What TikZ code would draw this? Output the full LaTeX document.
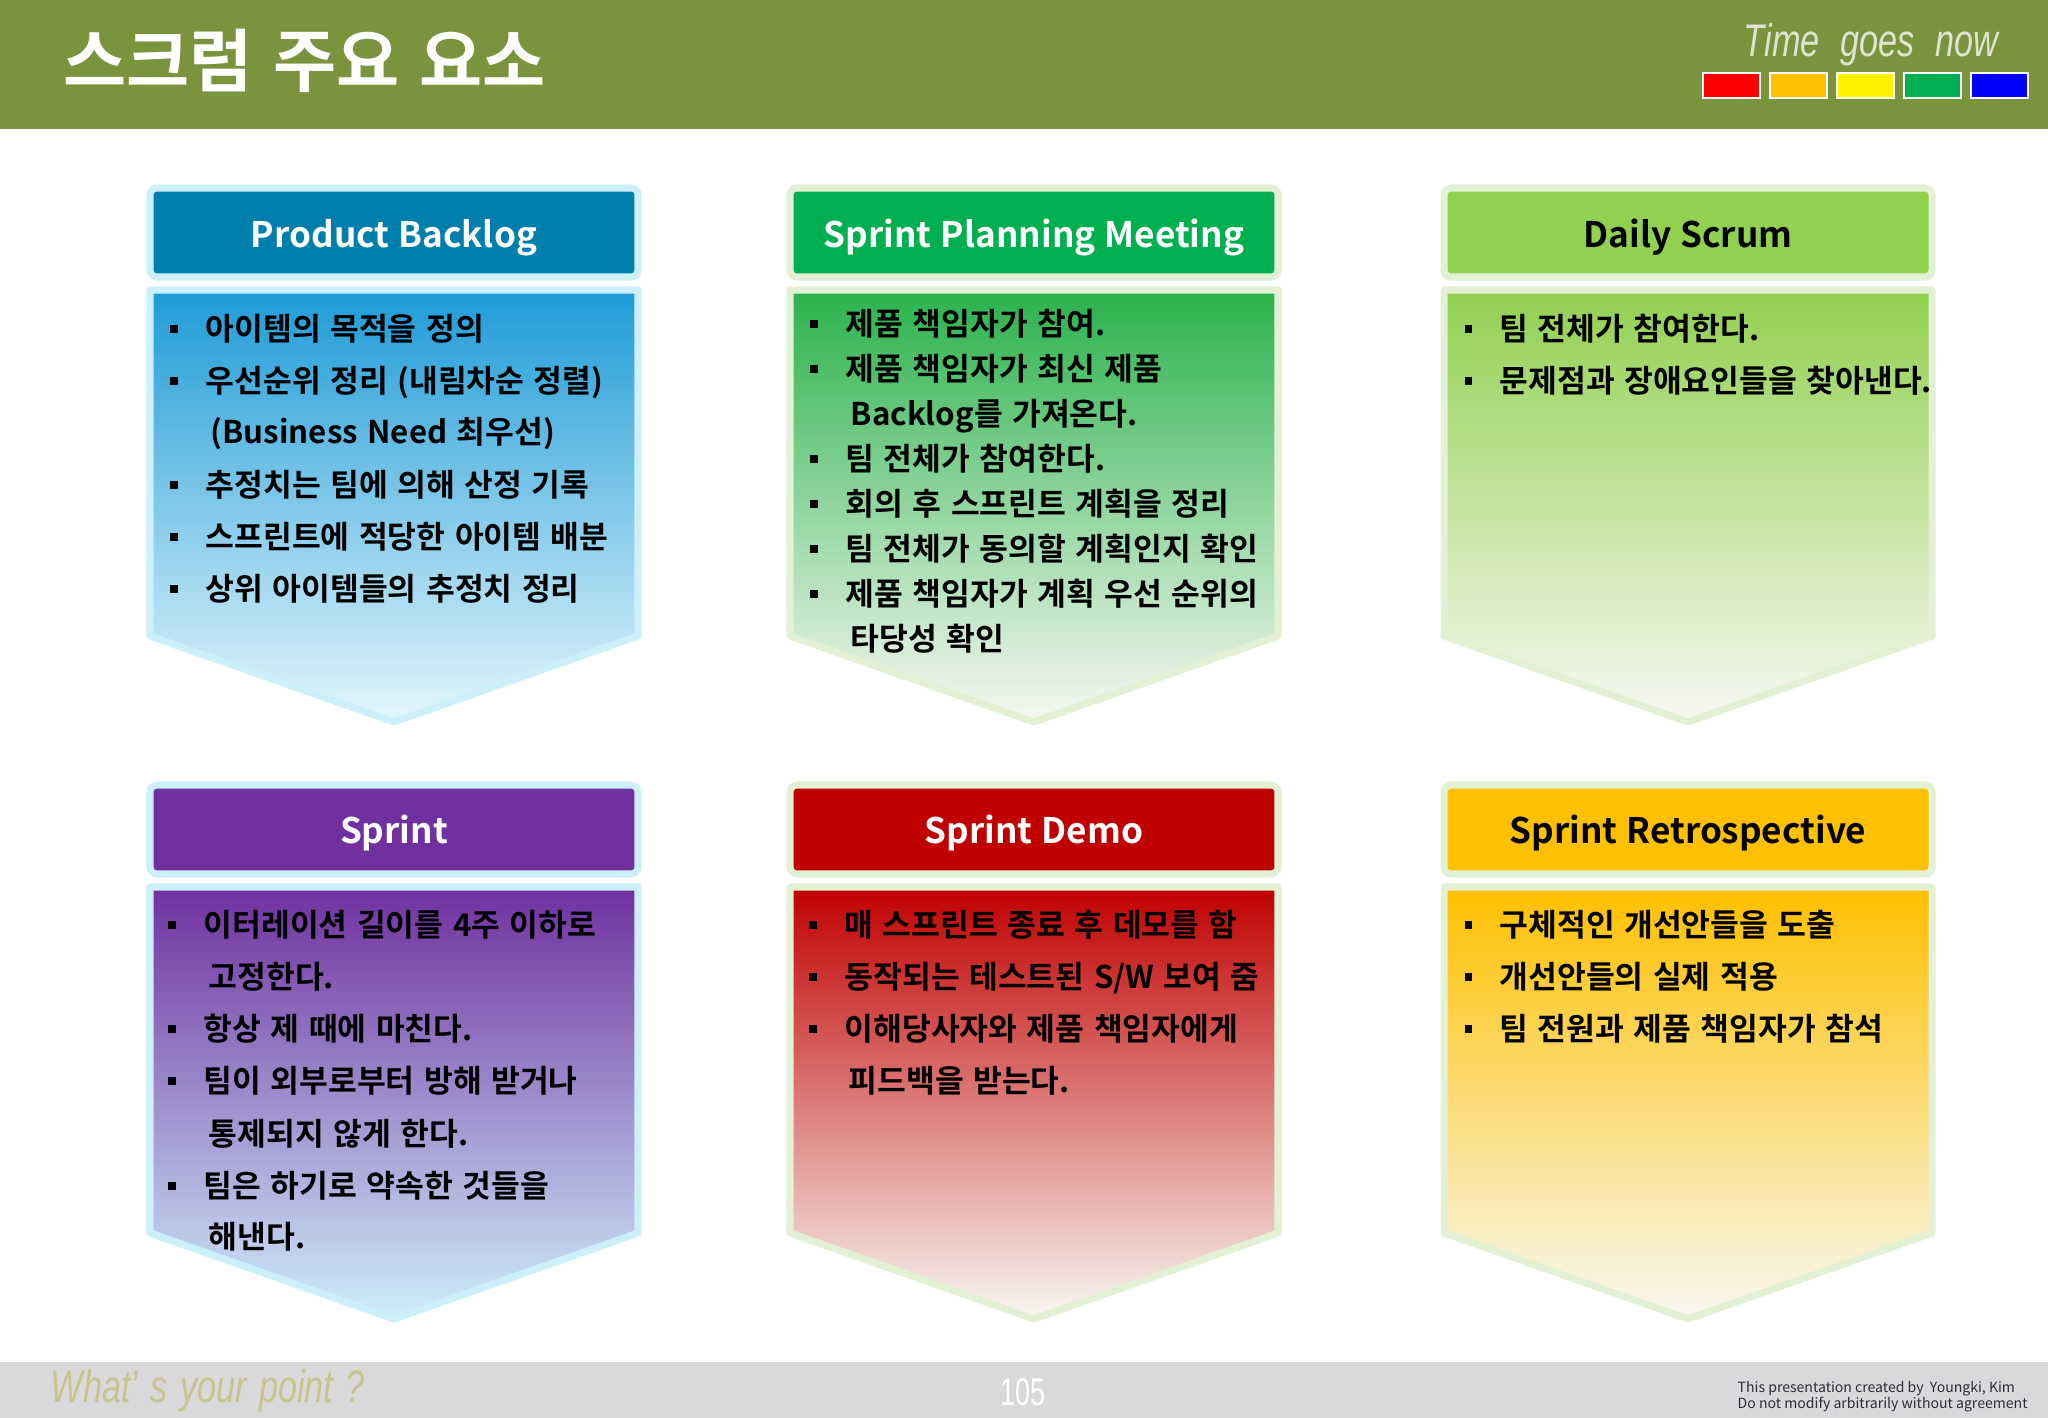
\documentclass[tikz,border=0pt]{standalone}
\usepackage{fontspec}
\usepackage{xcolor}
\newfontfamily\krfont{Noto Sans CJK KR}[UprightFont=* Bold]
\newfontfamily\krnote{Noto Sans CJK KR}
\newfontfamily\slogan{Liberation Sans}[FakeStretch=0.75]
\newfontfamily\pagefont{Liberation Sans}[FakeStretch=0.7]
\newcommand\titlefont{\krfont\fontsize{19.5}{22}\selectfont\spaceskip 5.8pt\relax}
\newcommand\headfont{\krfont\fontsize{10}{12}\selectfont\spaceskip 2.6pt\relax}
\newcommand\itemfont{\krfont\fontsize{8.9}{11}\selectfont\spaceskip 2.7pt\relax}
\newcommand\sloganfont{\slogan\itshape\fontsize{13}{15}\selectfont\spaceskip 5.9pt\relax}
\newcommand\pointfont{\slogan\itshape\fontsize{13}{15}\selectfont\spaceskip 3.5pt\relax}

\definecolor{barolive}{RGB}{122,148,61}
\definecolor{footgray}{RGB}{217,217,219}
\definecolor{slogangray}{RGB}{224,226,210}
\definecolor{pointtan}{RGB}{200,196,140}
\definecolor{notegray}{RGB}{45,45,55}
\definecolor{glowcyan}{RGB}{204,240,250}
\definecolor{glowgreen}{RGB}{226,241,212}
\definecolor{pbhead}{RGB}{0,126,172}
\definecolor{pbtop}{RGB}{30,155,215}
\definecolor{pbbot}{RGB}{228,246,252}
\definecolor{spmhead}{RGB}{0,176,80}
\definecolor{spmtop}{RGB}{42,178,76}
\definecolor{dshead}{RGB}{146,208,80}
\definecolor{sprhead}{RGB}{112,48,160}
\definecolor{sprmid}{RGB}{150,142,206}
\definecolor{sprbot}{RGB}{206,238,250}
\definecolor{demohead}{RGB}{192,0,0}
\definecolor{retrohead}{RGB}{255,192,0}
\definecolor{palebot}{RGB}{248,248,242}

\begin{document}
\begin{tikzpicture}[x=0.01cm,y=-0.01cm,
  headbox/.style={line width=2pt, rounded corners=2pt},
  bodybox/.style={line width=2pt, line join=round},
  headtxt/.style={anchor=base, inner sep=0pt, font=\headfont},
  item/.style={anchor=west, inner sep=0pt, text height=7.6pt, text depth=1pt, font=\itemfont},
  bullet/.style={fill=black, minimum size=2pt, inner sep=0pt},
  swatch/.style={draw=white, line width=0.6pt}]
%\draw[step=100,gray,very thin] (0,0) grid (2048,1418); %background grid
\fill[white] (0,0) rectangle (2048,1418);
\useasboundingbox (0,0) rectangle (2048,1418);

% title bar
\fill[barolive] (0,0) rectangle (2048,129);
\node[anchor=west, inner sep=0pt, text=white, font=\titlefont] (title) at (63,61) {스크럼 주요 요소};
\node[anchor=base west, inner sep=0pt, text=slogangray, font=\sloganfont] (slogan) at (1743,57) {Time goes now};
\draw[swatch, fill=red]          (1703,73) rectangle (1760,98);
\draw[swatch, fill=retrohead]    (1770,73) rectangle (1827,98);
\draw[swatch, fill=yellow]       (1837,73) rectangle (1894,98);
\draw[swatch, fill=spmhead]      (1904,73) rectangle (1961,98);
\draw[swatch, fill=blue]         (1971,73) rectangle (2028,98);

% footer
\fill[footgray] (0,1362) rectangle (2048,1418);
\node[anchor=base west, inner sep=0pt, text=pointtan, font=\pointfont] (point) at (50,1402) {What’ s your point ?};
\node[inner sep=0pt, text=white, font=\pagefont\fontsize{11}{13}\selectfont] (page) at (1023,1392) {105};
\node[anchor=west, inner sep=0pt, text=notegray, font=\krnote\fontsize{4}{5}\selectfont] (note1) at (1737,1389) {This presentation created by\ \ Youngki, Kim};
\node[anchor=west, inner sep=0pt, text=notegray, font=\krnote\fontsize{4}{5}\selectfont] (note2) at (1737,1405) {Do not modify arbitrarily without agreement};

%------------------------------------------------- Product Backlog
\draw[headbox, draw=glowcyan, fill=pbhead] (150,188) rectangle (638,277);
\node[headtxt, text=white] (pbh) at (394,247) {Product Backlog};
\draw[bodybox, draw=glowcyan, top color=pbtop, bottom color=pbbot] (150,290) -- (638,290) -- (638,636) -- (394,722) -- (150,636) -- cycle;
\node[bullet] (pb1b) at (174,329) {}; \node[item] (pb1) at (205,329) {아이템의 목적을 정의};
\node[bullet] (pb2b) at (174,381) {}; \node[item] (pb2) at (205,381) {우선순위 정리 (내림차순 정렬)};
                                      \node[item] (pb2c) at (210,432) {(Business Need 최우선)};
\node[bullet] (pb3b) at (174,485) {}; \node[item] (pb3) at (205,485) {추정치는 팀에 의해 산정 기록};
\node[bullet] (pb4b) at (174,537) {}; \node[item] (pb4) at (205,537) {스프린트에 적당한 아이템 배분};
\node[bullet] (pb5b) at (174,589) {}; \node[item] (pb5) at (205,589) {상위 아이템들의 추정치 정리};

%------------------------------------------------- Sprint Planning Meeting
\draw[headbox, draw=glowgreen, fill=spmhead] (790,188) rectangle (1278,277);
\node[headtxt, text=white] (spmh) at (1034,247) {Sprint Planning Meeting};
\draw[bodybox, draw=glowgreen, top color=spmtop, bottom color=palebot] (790,290) -- (1278,290) -- (1278,636) -- (1034,722) -- (790,636) -- cycle;
\node[bullet] (spm1b) at (814,324) {}; \node[item] (spm1) at (845,324) {제품 책임자가 참여.};
\node[bullet] (spm2b) at (814,369) {}; \node[item] (spm2) at (845,369) {제품 책임자가 최신 제품};
                                       \node[item] (spm2c) at (850,414) {Backlog를 가져온다.};
\node[bullet] (spm3b) at (814,459) {}; \node[item] (spm3) at (845,459) {팀 전체가 참여한다.};
\node[bullet] (spm4b) at (814,504) {}; \node[item] (spm4) at (845,504) {회의 후 스프린트 계획을 정리};
\node[bullet] (spm5b) at (814,549) {}; \node[item] (spm5) at (845,549) {팀 전체가 동의할 계획인지 확인};
\node[bullet] (spm6b) at (814,594) {}; \node[item] (spm6) at (845,594) {제품 책임자가 계획 우선 순위의};
                                       \node[item] (spm6c) at (850,639) {타당성 확인};

%------------------------------------------------- Daily Scrum
\draw[headbox, draw=glowgreen, fill=dshead] (1444,188) rectangle (1932,277);
\node[headtxt, text=black] (dsh) at (1688,247) {Daily Scrum};
\draw[bodybox, draw=glowgreen, top color=dshead, bottom color=palebot] (1444,290) -- (1932,290) -- (1932,636) -- (1688,722) -- (1444,636) -- cycle;
\node[bullet] (ds1b) at (1468,329) {}; \node[item] (ds1) at (1499,329) {팀 전체가 참여한다.};
\node[bullet] (ds2b) at (1468,381) {}; \node[item] (ds2) at (1499,381) {문제점과 장애요인들을 찾아낸다.};

%------------------------------------------------- Sprint
\draw[headbox, draw=glowcyan, fill=sprhead] (150,785) rectangle (638,874);
\node[headtxt, text=white] (sprh) at (394,843) {Sprint};
\draw[bodybox, draw=glowcyan, top color=sprhead, middle color=sprmid, bottom color=sprbot] (150,887) -- (638,887) -- (638,1233) -- (394,1319) -- (150,1233) -- cycle;
\node[bullet] (spr1b) at (172,925) {};  \node[item] (spr1) at (203,925) {이터레이션 길이를 4주 이하로};
                                        \node[item] (spr1c) at (208,977) {고정한다.};
\node[bullet] (spr2b) at (172,1029) {}; \node[item] (spr2) at (203,1029) {항상 제 때에 마친다.};
\node[bullet] (spr3b) at (172,1081) {}; \node[item] (spr3) at (203,1081) {팀이 외부로부터 방해 받거나};
                                        \node[item] (spr3c) at (208,1134) {통제되지 않게 한다.};
\node[bullet] (spr4b) at (172,1186) {}; \node[item] (spr4) at (203,1186) {팀은 하기로 약속한 것들을};
                                        \node[item] (spr4c) at (208,1237) {해낸다.};

%------------------------------------------------- Sprint Demo
\draw[headbox, draw=glowgreen, fill=demohead] (790,785) rectangle (1278,874);
\node[headtxt, text=white] (demoh) at (1034,843) {Sprint Demo};
\draw[bodybox, draw=glowgreen, top color=demohead, bottom color=palebot] (790,887) -- (1278,887) -- (1278,1233) -- (1034,1319) -- (790,1233) -- cycle;
\node[bullet] (demo1b) at (813,925) {};  \node[item] (demo1) at (844,925) {매 스프린트 종료 후 데모를 함};
\node[bullet] (demo2b) at (813,977) {};  \node[item] (demo2) at (844,977) {동작되는 테스트된 S/W 보여 줌};
\node[bullet] (demo3b) at (813,1029) {}; \node[item] (demo3) at (844,1029) {이해당사자와 제품 책임자에게};
                                         \node[item] (demo3c) at (848,1081) {피드백을 받는다.};

%------------------------------------------------- Sprint Retrospective
\draw[headbox, draw=glowgreen, fill=retrohead] (1444,785) rectangle (1932,874);
\node[headtxt, text=black] (retroh) at (1688,843) {Sprint Retrospective};
\draw[bodybox, draw=glowgreen, top color=retrohead, bottom color=palebot] (1444,887) -- (1932,887) -- (1932,1233) -- (1688,1319) -- (1444,1233) -- cycle;
\node[bullet] (retro1b) at (1468,925) {};  \node[item] (retro1) at (1499,925) {구체적인 개선안들을 도출};
\node[bullet] (retro2b) at (1468,977) {};  \node[item] (retro2) at (1499,977) {개선안들의 실제 적용};
\node[bullet] (retro3b) at (1468,1029) {}; \node[item] (retro3) at (1499,1029) {팀 전원과 제품 책임자가 참석};
\end{tikzpicture}
\end{document}
